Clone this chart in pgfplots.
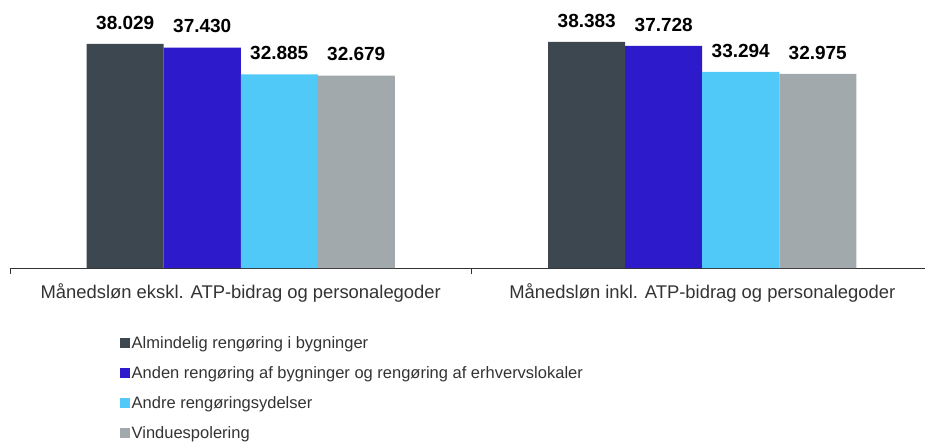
\documentclass[border=0pt]{standalone}
\usepackage{pgfplots}
\pgfplotsset{compat=1.18}
\usepackage{fontspec}
\setmainfont{Liberation Sans}
\definecolor{c1}{HTML}{3C4750}
\definecolor{c2}{HTML}{2C1ACB}
\definecolor{c3}{HTML}{50C9F8}
\definecolor{c4}{HTML}{A2A9AC}
\definecolor{axc}{HTML}{333333}
\begin{document}
\begin{tikzpicture}[x=1pt,y=1pt]
\useasboundingbox (0,0) rectangle (925,-443);
\begin{axis}[
  at={(10pt,-268pt)}, anchor=south west,
  scale only axis, width=915pt, height=268pt,
  xmin=-0.5, xmax=1.4827, ymin=0, ymax=45499,
  enlargelimits=false, clip=false,
  axis x line=bottom, axis y line=none,
  axis line style={-, draw=axc, line width=0.8pt},
  ybar=0pt, bar width=77pt,
  xtick={0,1},
  xticklabels={Månedsløn ekskl. ATP-bidrag og personalegoder, Månedsløn inkl. ATP-bidrag og personalegoder},
  major tick length=0pt,
  xticklabel style={font=\fontsize{18.4}{21}\selectfont, text=axc, yshift=-12pt},
  extra x ticks={-0.5,0.5}, extra x tick labels={},
  extra x tick style={major tick length=6pt, tick align=outside, tick style={draw=axc, line width=0.8pt}},
  nodes near coords, point meta=explicit symbolic,
  nodes near coords style={font=\fontsize{19}{21}\selectfont\bfseries, text=black, yshift=11pt},
  legend cell align=left,
  legend style={at={(rel axis cs:0.1202,-0.247)}, anchor=north west, draw=none, fill=none,
    inner sep=0pt, font=\fontsize{16.5}{19}\selectfont, text=axc, row sep=12.5pt,
    /tikz/every even column/.append style={column sep=0pt}},
  legend image code/.code={\fill[#1] (0pt,-5pt) rectangle (9.5pt,5pt);},
]
\addplot[fill=c1, draw=none] coordinates {(0,38029) [38.029] (1,38383) [38.383]};
\addplot[fill=c2, draw=none] coordinates {(0,37430) [37.430] (1,37728) [37.728]};
\addplot[fill=c3, draw=none] coordinates {(0,32885) [32.885] (1,33294) [33.294]};
\addplot[fill=c4, draw=none] coordinates {(0,32679) [32.679] (1,32975) [32.975]};
\legend{Almindelig rengøring i bygninger, Anden rengøring af bygninger og rengøring af erhvervslokaler, Andre rengøringsydelser, Vinduespolering}
\end{axis}
\end{tikzpicture}
\end{document}
